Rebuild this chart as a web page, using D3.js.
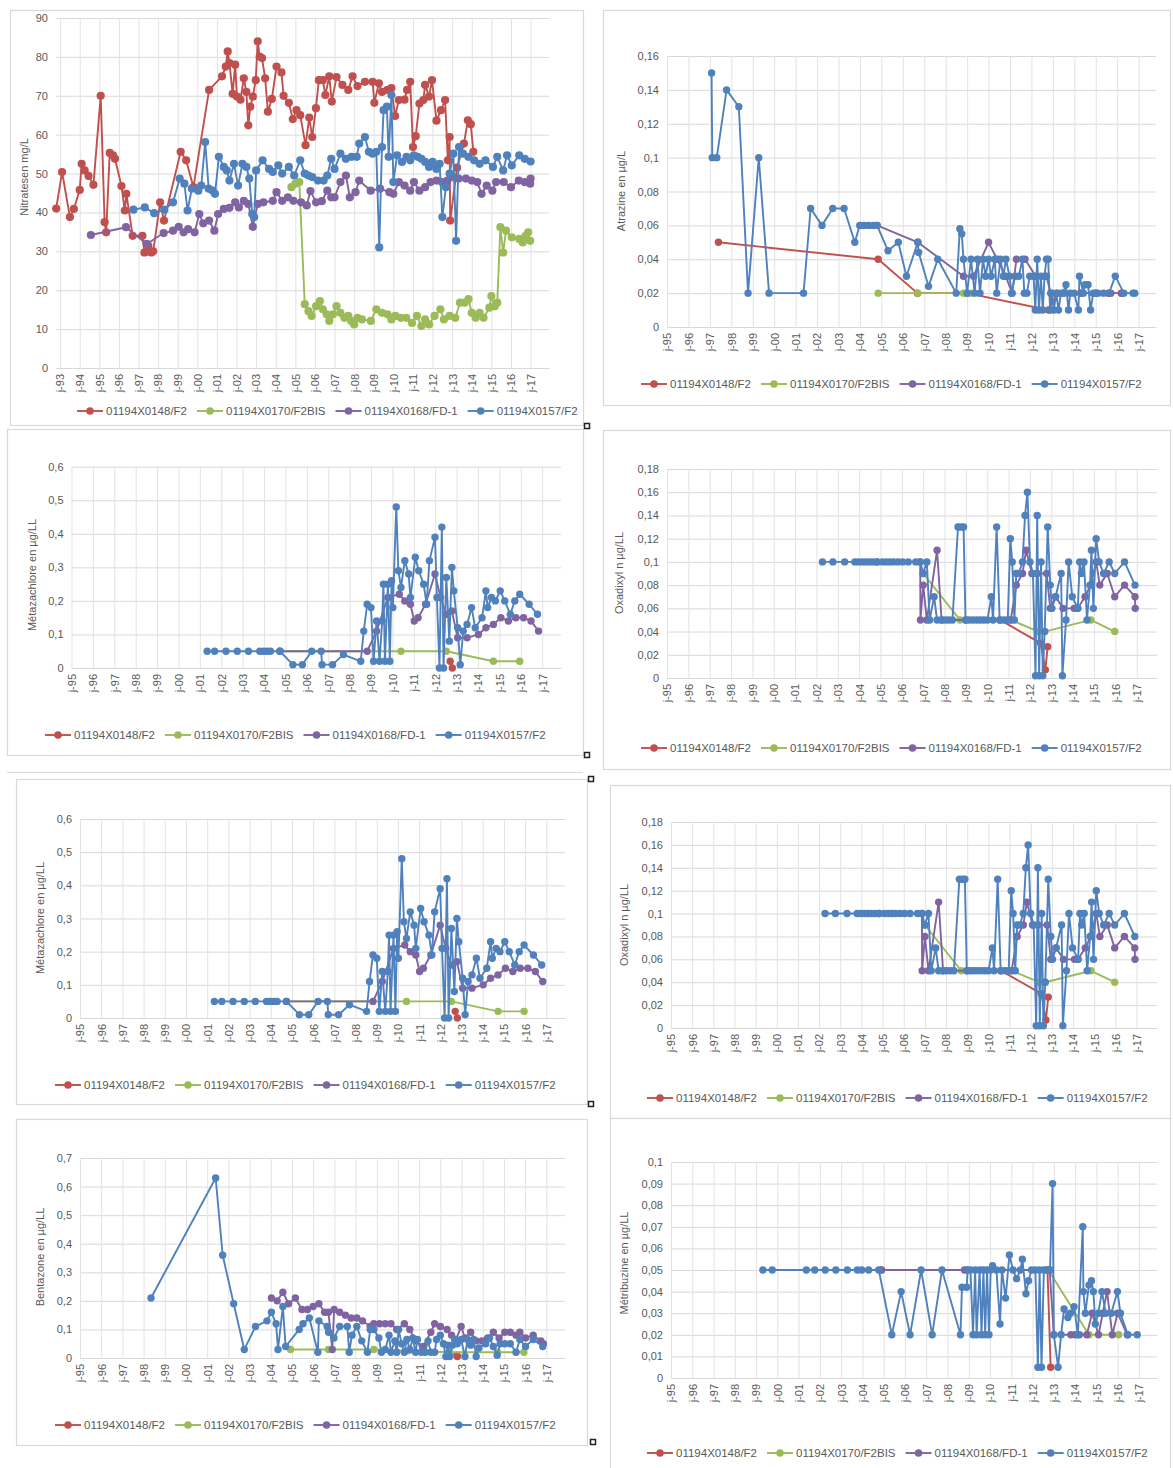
<!DOCTYPE html>
<html>
<head>
<meta charset="utf-8">
<script src="https://cdn.jsdelivr.net/npm/d3@7"></script>
<style>
  body { margin: 0; background: #fff; }
  svg { display: block; font-family: "Liberation Sans", Arial, sans-serif; }
</style>
</head>
<body>
<div id="chart"></div>
<script>
// wells, one series each
const wellNames = ["01194X0148/F2", "01194X0170/F2BIS", "01194X0168/FD-1", "01194X0157/F2"];
const wellColors = ["#c0504d", "#9bbb59", "#8064a2", "#4f81bd"];

// x ticks (janvier of each year)
const years93 = [1993,1994,1995,1996,1997,1998,1999,2000,2001,2002,2003,2004,2005,2006,2007,2008,2009,2010,2011,2012,2013,2014,2015,2016,2017];
const years95 = [1995,1996,1997,1998,1999,2000,2001,2002,2003,2004,2005,2006,2007,2008,2009,2010,2011,2012,2013,2014,2015,2016,2017];
const yearLabel = y => "j-" + String(y).slice(2);

// y ticks
const nitrateTicks = [0,10,20,30,40,50,60,70,80,90];
const atrazineTicks = [0,0.02,0.04,0.06,0.08,0.1,0.12,0.14,0.16];
const metazachloreTicks = [0,0.1,0.2,0.3,0.4,0.5,0.6];
const oxadixylTicks = [0,0.02,0.04,0.06,0.08,0.1,0.12,0.14,0.16,0.18];
const bentazoneTicks = [0,0.1,0.2,0.3,0.4,0.5,0.6,0.7];
const metribuzineTicks = [0,0.01,0.02,0.03,0.04,0.05,0.06,0.07,0.08,0.09,0.1];

// Nitrates (mg/L)  [date as decimal year, value]
const nitrate148 = [[1992.8,41],[1993.1,50.4],[1993.5,38.8],[1993.7,40.9],[1994.0,45.8],[1994.1,52.5],[1994.25,50.8],[1994.45,49.4],[1994.7,47.1],[1995.07,70],[1995.27,37.5],[1995.35,34.9],[1995.53,55.3],[1995.7,54.7],[1995.8,53.8],[1996.13,46.8],[1996.3,40.5],[1996.38,44.8],[1996.7,34],[1997.2,34],[1997.3,29.7],[1997.5,31.4],[1997.65,29.7],[1997.75,30],[1998.1,42.6],[1998.3,37.9],[1999.15,55.6],[1999.43,53.4],[1999.8,46.5],[2000.6,71.5],[2001.26,75],[2001.45,77.5],[2001.55,81.4],[2001.64,78.4],[2001.8,70.5],[2001.93,78],[2002.02,69.8],[2002.2,69],[2002.37,74.5],[2002.5,71],[2002.6,62.4],[2002.7,67.2],[2002.83,69.8],[2002.98,74],[2003.08,84],[2003.18,80.1],[2003.3,79.7],[2003.46,74.5],[2003.6,65.9],[2003.8,69.2],[2004.04,77.5],[2004.29,76],[2004.4,70],[2004.67,68.2],[2004.87,64],[2005.06,66.3],[2005.25,65],[2005.52,57.3],[2005.71,64.4],[2005.86,59.4],[2006.05,66.8],[2006.2,74],[2006.4,74],[2006.53,70.2],[2006.73,75],[2006.86,68.5],[2007.1,74.8],[2007.4,72.8],[2007.7,71.5],[2007.92,75],[2008.17,72.5],[2008.55,73.6],[2008.94,73.6],[2009.03,68.2],[2009.26,73.2],[2009.42,71],[2009.7,71.5],[2009.9,72],[2010.09,64.8],[2010.28,68.9],[2010.57,69],[2010.7,71.5],[2010.86,73.6],[2011.0,56.8],[2011.14,59.6],[2011.33,68],[2011.53,68.9],[2011.62,72.8],[2011.82,69.8],[2011.97,74],[2012.2,63.6],[2012.43,66.3],[2012.64,68.9],[2012.78,53.4],[2012.87,59.4],[2012.9,37.9],[2013.25,51.5],[2013.6,57.7],[2013.8,63.7],[2013.95,62.7],[2014.08,55.6]];
const nitrate170 = [[2004.8,46.5],[2005.0,47.4],[2005.2,47.8],[2005.48,16.4],[2005.67,14.6],[2005.83,13.4],[2006.06,15.9],[2006.25,17.2],[2006.4,15.1],[2006.6,13.8],[2006.73,12.1],[2006.92,13.8],[2007.1,15.9],[2007.3,14.2],[2007.5,12.9],[2007.7,13.4],[2007.85,12.1],[2008.0,11.2],[2008.17,12.9],[2008.4,12.5],[2008.85,12.1],[2009.13,15.1],[2009.42,14.2],[2009.7,13.8],[2009.9,12.5],[2010.1,13.4],[2010.38,12.9],[2010.66,12.9],[2010.95,11.6],[2011.2,13.4],[2011.43,10.8],[2011.62,12.5],[2011.82,11.2],[2012.1,13.4],[2012.4,15.1],[2012.58,12.5],[2012.87,13.4],[2013.16,12.9],[2013.4,16.8],[2013.64,16.8],[2013.83,17.7],[2014.0,14.2],[2014.2,12.9],[2014.4,14.2],[2014.6,12.9],[2014.9,15.5],[2015.0,18.5],[2015.17,15.9],[2015.3,16.8],[2015.46,36.2],[2015.6,29.7],[2015.75,35.3],[2016.04,33.6],[2016.42,33.2],[2016.6,32.3],[2016.75,34],[2016.88,34.9],[2016.98,32.7]];
const nitrate168 = [[1994.57,34.2],[1996.36,36.2],[1997.42,31.9],[1998.28,34.7],[1998.76,35.3],[1999.05,36.3],[1999.3,34.9],[1999.53,35.7],[1999.86,34.9],[2000.1,39.6],[2000.3,37.2],[2000.6,37.9],[2000.87,35.3],[2001.06,39.6],[2001.35,40.9],[2001.64,41.2],[2001.93,42.6],[2002.12,41.3],[2002.37,43],[2002.6,42.2],[2002.83,36.3],[2003.08,42.2],[2003.37,42.6],[2003.85,43],[2004.04,45.2],[2004.33,43],[2004.62,43.9],[2004.9,43],[2005.29,42.6],[2005.58,41.8],[2005.77,45.5],[2006.06,42.6],[2006.35,42.9],[2006.63,45.6],[2006.83,43.9],[2007.0,43.9],[2007.3,47.8],[2007.58,49.5],[2007.78,43.9],[2008.07,45.2],[2008.26,48.2],[2008.84,45.6],[2009.32,46.1],[2009.8,45.2],[2010.0,44.8],[2010.28,47.8],[2010.57,46.9],[2010.86,45.6],[2011.05,47.8],[2011.33,45.6],[2011.62,46.5],[2011.9,47.8],[2012.2,48.2],[2012.48,47.8],[2012.76,48.2],[2013.05,49.1],[2013.33,48.7],[2013.7,48.7],[2014.0,48.2],[2014.28,47.8],[2014.5,44.8],[2014.76,46.9],[2015.05,45.6],[2015.24,47.8],[2015.63,47.8],[2016.0,46.5],[2016.4,48.2],[2016.7,47.8],[2016.98,47.4],[2017.0,48.7]];
const nitrate157 = [[1996.74,40.7],[1997.32,41.3],[1997.8,39.8],[1998.32,40.7],[1998.76,42.6],[1999.1,48.7],[1999.34,47.4],[1999.5,40.5],[1999.72,46.1],[2000.05,45.6],[2000.2,46.9],[2000.4,58.1],[2000.58,46.1],[2000.78,45.6],[2000.9,44.8],[2001.1,54.3],[2001.35,51.7],[2001.5,50.8],[2001.64,48.2],[2001.87,52.5],[2002.08,46.9],[2002.3,52.5],[2002.5,51.7],[2002.65,48.7],[2002.8,39.6],[2002.9,38.8],[2003.0,50.8],[2003.33,53.4],[2003.66,51.2],[2003.85,50.4],[2004.13,52.1],[2004.33,50],[2004.67,51.7],[2004.94,49.5],[2005.25,53.4],[2005.48,50],[2005.67,49.5],[2005.86,49.1],[2006.15,48.2],[2006.44,48.2],[2006.63,49.5],[2006.83,53.8],[2007.0,51.2],[2007.3,55.1],[2007.58,53.8],[2007.87,54.3],[2008.13,54.3],[2008.26,57.7],[2008.55,59.4],[2008.75,55.6],[2008.94,55.1],[2009.13,55.6],[2009.28,31],[2009.42,56.8],[2009.5,66.3],[2009.67,67.2],[2009.76,54.3],[2009.9,70.2],[2010.0,47.8],[2010.19,54.7],[2010.44,53],[2010.67,54.3],[2010.86,53.4],[2011.05,54.7],[2011.24,54.3],[2011.43,53.8],[2011.62,53],[2011.82,51.7],[2012.0,53],[2012.2,51.2],[2012.36,52.5],[2012.5,38.8],[2012.68,46.5],[2012.87,50],[2013.06,55.1],[2013.2,32.7],[2013.35,56.8],[2013.55,55.1],[2013.83,54.3],[2014.12,53.4],[2014.4,52.5],[2014.7,53.4],[2015.08,51.7],[2015.3,54.3],[2015.6,50.8],[2015.8,54.7],[2016.04,52.1],[2016.42,54.7],[2016.7,53.8],[2017.0,53.1]];

// Atrazine (µg/L)
const atrazine148 = [[1997.4,0.05],[2004.85,0.04],[2006.68,0.02],[2009.0,0.02],[2012.8,0.01],[2013.2,0.02],[2014.3,0.02],[2015.0,0.02],[2015.6,0.02],[2016.2,0.02]];
const atrazine170 = [[2004.85,0.02],[2006.7,0.02],[2008.83,0.02],[2009.2,0.02]];
const atrazine168 = [[2004.8,0.06],[2006.7,0.05],[2008.83,0.03],[2009.3,0.03],[2010.0,0.05],[2010.4,0.04],[2010.8,0.03],[2011.1,0.02],[2011.3,0.04],[2011.7,0.04],[2012.2,0.03],[2012.7,0.03],[2012.9,0.02],[2013.5,0.02],[2014.3,0.02],[2015.0,0.02],[2015.7,0.02],[2016.2,0.02]];
const atrazine157 = [[1997.08,0.15],[1997.11,0.1],[1997.32,0.1],[1997.78,0.14],[1998.35,0.13],[1998.78,0.02],[1999.28,0.1],[1999.76,0.02],[2001.37,0.02],[2001.7,0.07],[2002.23,0.06],[2002.73,0.07],[2003.26,0.07],[2003.76,0.05],[2003.99,0.06],[2004.19,0.06],[2004.4,0.06],[2004.62,0.06],[2004.8,0.06],[2005.31,0.045],[2005.79,0.05],[2006.17,0.03],[2006.7,0.05],[2006.74,0.044],[2007.2,0.024],[2007.63,0.04],[2008.49,0.02],[2008.66,0.058],[2008.75,0.055],[2008.83,0.04],[2009.0,0.02],[2009.18,0.04],[2009.35,0.02],[2009.48,0.04],[2009.6,0.02],[2009.74,0.04],[2009.86,0.03],[2010.0,0.04],[2010.12,0.03],[2010.29,0.04],[2010.38,0.02],[2010.55,0.04],[2010.69,0.03],[2010.81,0.04],[2010.98,0.03],[2011.07,0.02],[2011.24,0.03],[2011.41,0.03],[2011.58,0.04],[2011.67,0.02],[2011.79,0.02],[2011.92,0.03],[2012.1,0.03],[2012.18,0.01],[2012.27,0.04],[2012.35,0.01],[2012.44,0.03],[2012.53,0.01],[2012.61,0.03],[2012.7,0.04],[2012.78,0.04],[2012.87,0.01],[2012.96,0.02],[2013.04,0.01],[2013.16,0.02],[2013.26,0.01],[2013.38,0.02],[2013.47,0.02],[2013.61,0.025],[2013.73,0.01],[2013.81,0.02],[2013.99,0.02],[2014.19,0.01],[2014.24,0.03],[2014.42,0.02],[2014.5,0.025],[2014.64,0.025],[2014.76,0.01],[2014.88,0.02],[2015.1,0.02],[2015.36,0.02],[2015.62,0.02],[2015.91,0.03],[2016.31,0.02],[2016.74,0.02],[2016.82,0.02]];

// Métazachlore (µg/L)
const metazachlore148 = [[2012.7,0.02],[2012.8,0]];
const metazachlore170 = [[2004.74,0.05],[2010.4,0.05],[2012.52,0.05],[2014.72,0.02],[2015.95,0.02]];
const metazachlore168 = [[2004.74,0.05],[2008.82,0.05],[2009.26,0.11],[2009.79,0.21],[2010.32,0.22],[2010.58,0.2],[2010.84,0.19],[2011.02,0.14],[2011.2,0.15],[2011.55,0.19],[2011.99,0.28],[2012.25,0.21],[2012.52,0.16],[2012.78,0.17],[2013.05,0.09],[2013.49,0.09],[2014.02,0.1],[2014.37,0.12],[2014.72,0.13],[2015.07,0.15],[2015.42,0.14],[2015.77,0.15],[2016.13,0.15],[2016.48,0.14],[2016.83,0.11]];
const metazachlore157 = [[2001.34,0.05],[2001.69,0.05],[2002.22,0.05],[2002.75,0.05],[2003.27,0.05],[2003.8,0.05],[2003.98,0.05],[2004.15,0.05],[2004.3,0.05],[2004.74,0.05],[2005.35,0.01],[2005.79,0.01],[2006.23,0.05],[2006.67,0.05],[2006.71,0.01],[2007.2,0.01],[2007.71,0.04],[2008.52,0.02],[2008.66,0.11],[2008.82,0.19],[2009.0,0.18],[2009.12,0.02],[2009.26,0.14],[2009.4,0.02],[2009.52,0.14],[2009.58,0.25],[2009.65,0.02],[2009.79,0.25],[2009.88,0.02],[2009.96,0.26],[2010.02,0.18],[2010.18,0.48],[2010.28,0.29],[2010.4,0.24],[2010.58,0.32],[2010.76,0.28],[2010.84,0.21],[2011.07,0.33],[2011.23,0.29],[2011.46,0.25],[2011.6,0.19],[2011.73,0.32],[2011.99,0.39],[2012.08,0.21],[2012.2,0],[2012.31,0.42],[2012.39,0],[2012.52,0.27],[2012.66,0.08],[2012.78,0.3],[2012.87,0.23],[2013.05,0.12],[2013.17,0.01],[2013.31,0.11],[2013.49,0.13],[2013.7,0.18],[2013.87,0.12],[2014.19,0.15],[2014.37,0.23],[2014.45,0.18],[2014.63,0.21],[2014.81,0.2],[2015.04,0.23],[2015.25,0.2],[2015.51,0.16],[2015.72,0.2],[2015.95,0.22],[2016.39,0.19],[2016.78,0.16]];

// Oxadixyl (µg/L)
const oxadixyl148 = [[2010.6,0.05],[2012.5,0.03],[2012.72,0.007],[2012.83,0.027]];
const oxadixyl170 = [[2007.0,0.09],[2008.72,0.05],[2011.1,0.05],[2012.4,0.04],[2012.69,0.04],[2014.85,0.05],[2015.97,0.04]];
const oxadixyl168 = [[2004.84,0.1],[2006.86,0.1],[2006.87,0.05],[2007.0,0.08],[2007.17,0.05],[2007.65,0.11],[2007.86,0.05],[2009.0,0.05],[2011.1,0.05],[2011.36,0.08],[2011.65,0.09],[2011.82,0.11],[2012.09,0.09],[2012.34,0.09],[2012.78,0.09],[2012.95,0.06],[2013.2,0.07],[2013.55,0.06],[2014.07,0.06],[2014.24,0.06],[2014.58,0.07],[2014.84,0.08],[2015.1,0.1],[2015.27,0.08],[2015.62,0.09],[2015.97,0.07],[2016.43,0.08],[2016.92,0.07],[2016.93,0.06]];
const oxadixyl157 = [[2002.28,0.1],[2002.77,0.1],[2003.32,0.1],[2003.8,0.1],[2003.97,0.1],[2004.15,0.1],[2004.32,0.1],[2004.49,0.1],[2004.66,0.1],[2004.84,0.1],[2005.09,0.1],[2005.27,0.1],[2005.44,0.1],[2005.61,0.1],[2005.82,0.1],[2006.04,0.1],[2006.3,0.1],[2006.65,0.1],[2006.86,0.1],[2007.0,0.09],[2007.17,0.1],[2007.3,0.05],[2007.51,0.07],[2007.65,0.05],[2007.86,0.05],[2008.03,0.05],[2008.2,0.05],[2008.37,0.05],[2008.63,0.13],[2008.77,0.13],[2008.89,0.13],[2008.98,0.05],[2009.15,0.05],[2009.32,0.05],[2009.5,0.05],[2009.67,0.05],[2009.84,0.05],[2010.01,0.05],[2010.19,0.07],[2010.27,0.05],[2010.44,0.13],[2010.58,0.05],[2010.79,0.05],[2010.96,0.05],[2011.08,0.12],[2011.17,0.1],[2011.27,0.05],[2011.36,0.09],[2011.48,0.09],[2011.65,0.1],[2011.77,0.14],[2011.88,0.16],[2012.0,0.1],[2012.14,0.09],[2012.26,0.002],[2012.34,0.14],[2012.43,0.002],[2012.52,0.1],[2012.6,0.002],[2012.69,0.04],[2012.83,0.13],[2012.95,0.08],[2013.03,0.06],[2013.2,0.07],[2013.46,0.09],[2013.52,0.002],[2013.69,0.05],[2013.81,0.1],[2013.98,0.07],[2014.24,0.06],[2014.33,0.1],[2014.41,0.09],[2014.53,0.1],[2014.67,0.05],[2014.81,0.08],[2014.88,0.11],[2014.97,0.06],[2015.1,0.12],[2015.24,0.1],[2015.45,0.09],[2015.71,0.1],[2015.97,0.09],[2016.43,0.1],[2016.92,0.08]];

// Bentazone (µg/L)
const bentazone148 = [[2012.78,0.01],[2012.8,0.005]];
const bentazone170 = [[2004.93,0.03],[2006.72,0.03],[2008.86,0.03],[2010.5,0.025],[2012.45,0.02],[2014.7,0.02],[2015.94,0.02]];
const bentazone168 = [[2004.03,0.21],[2004.3,0.2],[2004.57,0.23],[2004.84,0.19],[2005.16,0.21],[2005.47,0.17],[2005.73,0.17],[2006.0,0.18],[2006.27,0.19],[2006.54,0.16],[2006.72,0.16],[2006.9,0.03],[2006.99,0.17],[2007.25,0.16],[2007.52,0.15],[2007.79,0.14],[2008.06,0.14],[2008.33,0.13],[2008.69,0.11],[2008.86,0.12],[2009.13,0.12],[2009.4,0.12],[2009.67,0.12],[2009.94,0.1],[2010.3,0.12],[2010.56,0.1],[2010.83,0.06],[2011.19,0.04],[2011.55,0.09],[2011.73,0.12],[2012.0,0.11],[2012.32,0.1],[2012.53,0.08],[2012.71,0.06],[2012.98,0.11],[2013.16,0.07],[2013.43,0.09],[2013.69,0.06],[2013.96,0.06],[2014.23,0.07],[2014.5,0.09],[2014.77,0.07],[2015.04,0.09],[2015.3,0.09],[2015.57,0.08],[2015.75,0.09],[2016.02,0.07],[2016.38,0.08],[2016.74,0.06],[2016.86,0.05]];
const bentazone157 = [[1998.35,0.21],[2001.4,0.63],[2001.73,0.36],[2002.25,0.19],[2002.75,0.03],[2003.28,0.11],[2003.82,0.13],[2004.03,0.16],[2004.25,0.12],[2004.34,0.03],[2004.57,0.18],[2004.7,0.04],[2005.34,0.1],[2005.52,0.12],[2005.82,0.14],[2006.22,0.02],[2006.27,0.13],[2006.66,0.11],[2006.73,0.09],[2006.98,0.07],[2007.25,0.11],[2007.61,0.11],[2007.7,0.02],[2007.83,0.08],[2008.06,0.11],[2008.29,0.06],[2008.56,0.02],[2008.69,0.1],[2008.86,0.1],[2009.1,0.07],[2009.22,0.02],[2009.4,0.03],[2009.58,0.08],[2009.67,0.02],[2009.85,0.06],[2009.94,0.02],[2010.03,0.1],[2010.17,0.05],[2010.3,0.02],[2010.42,0.065],[2010.56,0.03],[2010.7,0.07],[2010.83,0.02],[2010.92,0.065],[2011.1,0.02],[2011.28,0.02],[2011.42,0.06],[2011.55,0.02],[2011.73,0.02],[2011.82,0.065],[2012.0,0.08],[2012.14,0.05],[2012.26,0.005],[2012.35,0.045],[2012.44,0.005],[2012.57,0.045],[2012.68,0.065],[2012.8,0.05],[2012.98,0.065],[2013.16,0.005],[2013.28,0.065],[2013.43,0.045],[2013.57,0.065],[2013.69,0.005],[2013.82,0.035],[2014.14,0.05],[2014.32,0.07],[2014.5,0.04],[2014.68,0.01],[2014.82,0.05],[2015.04,0.05],[2015.3,0.05],[2015.57,0.02],[2015.75,0.065],[2016.02,0.04],[2016.38,0.065],[2016.83,0.04]];

// Métribuzine (µg/L)
const metribuzine148 = [[2012.7,0.05],[2012.85,0.005]];
const metribuzine170 = [[2004.9,0.05],[2008.9,0.05],[2012.74,0.05],[2014.65,0.02],[2016.05,0.02]];
const metribuzine168 = [[2004.9,0.05],[2008.8,0.05],[2012.8,0.05],[2013.0,0.02],[2013.8,0.02],[2014.0,0.02],[2014.2,0.02],[2014.55,0.02],[2014.8,0.03],[2015.1,0.02],[2015.3,0.03],[2015.5,0.04],[2015.75,0.02],[2016.0,0.03],[2016.45,0.02]];
const metribuzine157 = [[1999.32,0.05],[1999.76,0.05],[2001.36,0.05],[2001.76,0.05],[2002.25,0.05],[2002.75,0.05],[2003.29,0.05],[2003.76,0.05],[2003.97,0.05],[2004.29,0.05],[2004.77,0.05],[2005.38,0.02],[2005.82,0.04],[2006.24,0.02],[2006.76,0.05],[2007.28,0.02],[2007.74,0.05],[2008.61,0.02],[2008.68,0.042],[2008.9,0.042],[2008.95,0.05],[2009.08,0.05],[2009.2,0.02],[2009.3,0.05],[2009.37,0.02],[2009.51,0.05],[2009.6,0.02],[2009.69,0.05],[2009.77,0.02],[2009.86,0.05],[2009.95,0.02],[2010.03,0.05],[2010.12,0.052],[2010.3,0.05],[2010.47,0.025],[2010.56,0.05],[2010.73,0.037],[2010.91,0.057],[2011.08,0.05],[2011.25,0.046],[2011.43,0.05],[2011.52,0.055],[2011.69,0.039],[2011.81,0.045],[2011.95,0.05],[2012.13,0.05],[2012.25,0.005],[2012.33,0.05],[2012.42,0.005],[2012.53,0.05],[2012.65,0.05],[2012.82,0.05],[2012.94,0.09],[2013.0,0.02],[2013.2,0.005],[2013.34,0.02],[2013.48,0.032],[2013.66,0.028],[2013.78,0.03],[2013.95,0.033],[2014.13,0.02],[2014.36,0.07],[2014.39,0.04],[2014.48,0.03],[2014.65,0.043],[2014.77,0.045],[2014.86,0.04],[2014.95,0.025],[2015.09,0.03],[2015.26,0.04],[2015.44,0.03],[2015.7,0.03],[2015.99,0.04],[2016.13,0.03],[2016.48,0.02],[2016.92,0.02]];

// page layout: one framed Excel chart per panel
const panels = [
  {series: [nitrate148, nitrate170, nitrate168, nitrate157], title: "Nitratesen mg/L", yTicks: nitrateTicks, xTicks: years93, xDomain: [1992.79, 2017.94],
   frame: {x: 10, y: 10, w: 573, h: 415}, plot: {l: 56, t: 18, r: 549, b: 368}, legend: {x: 77, y: 411}, titlePos: {x: 24, y: 177}, r: 4.1},
  {series: [atrazine148, atrazine170, atrazine168, atrazine157], title: "Atrazine en µg/L", yTicks: atrazineTicks, xTicks: years95, xDomain: [1995, 2017.81],
   frame: {x: 603, y: 10, w: 567, h: 395}, plot: {l: 667, t: 56, r: 1156, b: 327}, legend: {x: 641, y: 384}, titlePos: {x: 621, y: 191}, r: 3.7},
  {series: [metazachlore148, metazachlore170, metazachlore168, metazachlore157], title: "Métazachlore en µg/LL", yTicks: metazachloreTicks, xTicks: years95, xDomain: [1995, 2017.88],
   frame: {x: 7, y: 429, w: 576, h: 326}, plot: {l: 71.5, t: 466.7, r: 561, b: 668}, legend: {x: 45, y: 735}, titlePos: {x: 32, y: 575}, r: 3.7},
  {series: [oxadixyl148, oxadixyl170, oxadixyl168, oxadixyl157], title: "Oxadixyl n µg/LL", yTicks: oxadixylTicks, xTicks: years95, xDomain: [1995, 2017.95],
   frame: {x: 603, y: 430, w: 567, h: 339}, plot: {l: 667, t: 469, r: 1157, b: 678}, legend: {x: 641, y: 748}, titlePos: {x: 619, y: 573}, r: 3.7},
  {series: [metazachlore148, metazachlore170, metazachlore168, metazachlore157], title: "Métazachlore en µg/LL", yTicks: metazachloreTicks, xTicks: years95, xDomain: [1995, 2017.88],
   frame: {x: 16, y: 779, w: 571, h: 325}, plot: {l: 80, t: 819, r: 565, b: 1018}, legend: {x: 55, y: 1085}, titlePos: {x: 40, y: 918}, r: 3.7},
  {series: [oxadixyl148, oxadixyl170, oxadixyl168, oxadixyl157], title: "Oxadixyl n µg/LL", yTicks: oxadixylTicks, xTicks: years95, xDomain: [1995, 2017.97],
   frame: {x: 610, y: 785, w: 560, h: 334}, plot: {l: 671, t: 822, r: 1157, b: 1028}, legend: {x: 647, y: 1098}, titlePos: {x: 624, y: 925}, r: 3.7},
  {series: [bentazone148, bentazone170, bentazone168, bentazone157], title: "Bentazone en µg/LL", yTicks: bentazoneTicks, xTicks: years95, xDomain: [1995, 2017.88],
   frame: {x: 16, y: 1119, w: 571, h: 326}, plot: {l: 80, t: 1158, r: 565, b: 1358}, legend: {x: 55, y: 1425}, titlePos: {x: 40, y: 1257}, r: 3.7},
  {series: [metribuzine148, metribuzine170, metribuzine168, metribuzine157], title: "Métribuzine en µg/LL", yTicks: metribuzineTicks, xTicks: years95, xDomain: [1995, 2017.85],
   frame: {x: 610, y: 1118, w: 560, h: 362}, plot: {l: 671, t: 1162, r: 1157, b: 1378}, legend: {x: 647, y: 1453}, titlePos: {x: 624, y: 1263}, r: 3.7}
];

// little resize handles left over from the screenshot
const handles = [[587, 426], [587, 755], [591, 779], [591, 1104], [593, 1442]];

const svg = d3.select("#chart").append("svg")
  .attr("width", 1173)
  .attr("height", 1468);

svg.append("rect").attr("width", 1173).attr("height", 1468).attr("fill", "#fff");

// stray page line between the two middle rows
svg.append("line")
  .attr("x1", 7).attr("x2", 583).attr("y1", 772.5).attr("y2", 772.5)
  .attr("stroke", "#d9d9d9");

const commaFmt = v => String(v).replace(".", ",");

panels.forEach(p => {
  const g = svg.append("g");

  g.append("rect")
    .attr("x", p.frame.x + 0.5).attr("y", p.frame.y + 0.5)
    .attr("width", p.frame.w).attr("height", p.frame.h)
    .attr("fill", "#fff")
    .attr("stroke", "#d9d9d9")
    .attr("stroke-width", 1.2);

  const x = d3.scaleLinear().domain(p.xDomain).range([p.plot.l, p.plot.r]);
  const y = d3.scaleLinear().domain([0, d3.max(p.yTicks)]).range([p.plot.b, p.plot.t]);

  // horizontal grid + value labels
  const yAxis = g.append("g")
    .attr("transform", "translate(" + p.plot.l + ",0)")
    .call(d3.axisLeft(y).tickValues(p.yTicks).tickSize(-(p.plot.r - p.plot.l)).tickPadding(8).tickFormat(commaFmt));
  yAxis.select(".domain").remove();
  yAxis.selectAll("line").attr("stroke", "#d9d9d9");
  yAxis.selectAll("text").attr("fill", "#595959").style("font-size", "11px");

  // vertical grid + rotated date labels
  const xAxis = g.append("g")
    .attr("transform", "translate(0," + p.plot.b + ")")
    .call(d3.axisBottom(x).tickValues(p.xTicks).tickSize(-(p.plot.b - p.plot.t)).tickSizeOuter(0).tickFormat(yearLabel));
  xAxis.select(".domain").attr("stroke", "#d9d9d9");
  xAxis.selectAll("line").attr("stroke", "#e3e3e3");
  xAxis.selectAll("text")
    .attr("transform", "rotate(-90)")
    .attr("text-anchor", "end")
    .attr("x", -6)
    .attr("y", 0)
    .attr("dy", "0.35em")
    .attr("fill", "#595959")
    .style("font-size", "11px");

  g.append("text")
    .attr("transform", "translate(" + p.titlePos.x + "," + p.titlePos.y + ") rotate(-90)")
    .attr("text-anchor", "middle")
    .attr("dy", "0.35em")
    .attr("fill", "#595959")
    .style("font-size", "11px")
    .text(p.title);

  const line = d3.line().x(d => x(d[0])).y(d => y(d[1]));

  p.series.forEach((s, i) => {
    g.append("path")
      .datum(s)
      .attr("d", line)
      .attr("fill", "none")
      .attr("stroke", wellColors[i])
      .attr("stroke-width", 1.9)
      .attr("stroke-linejoin", "round");

    g.append("g").selectAll("circle")
      .data(s)
      .join("circle")
      .attr("cx", d => x(d[0]))
      .attr("cy", d => y(d[1]))
      .attr("r", p.r)
      .attr("fill", wellColors[i]);
  });

  // legend
  let lx = p.legend.x;
  wellNames.forEach((name, i) => {
    const item = g.append("g").attr("transform", "translate(" + lx + "," + p.legend.y + ")");
    item.append("line")
      .attr("x1", 0).attr("x2", 26)
      .attr("stroke", wellColors[i]).attr("stroke-width", 1.9);
    item.append("circle").attr("cx", 13).attr("r", 3.8).attr("fill", wellColors[i]);
    const t = item.append("text")
      .attr("x", 29)
      .attr("dy", "0.35em")
      .attr("fill", "#595959")
      .style("font-size", "11.5px")
      .text(name);
    lx += 29 + t.node().getComputedTextLength() + 10;
  });
});

svg.selectAll(".handle")
  .data(handles)
  .join("rect")
  .attr("class", "handle")
  .attr("x", d => d[0] - 2.5)
  .attr("y", d => d[1] - 2.5)
  .attr("width", 5)
  .attr("height", 5)
  .attr("fill", "#fff")
  .attr("stroke", "#222")
  .attr("stroke-width", 1.5);
</script>
</body>
</html>
